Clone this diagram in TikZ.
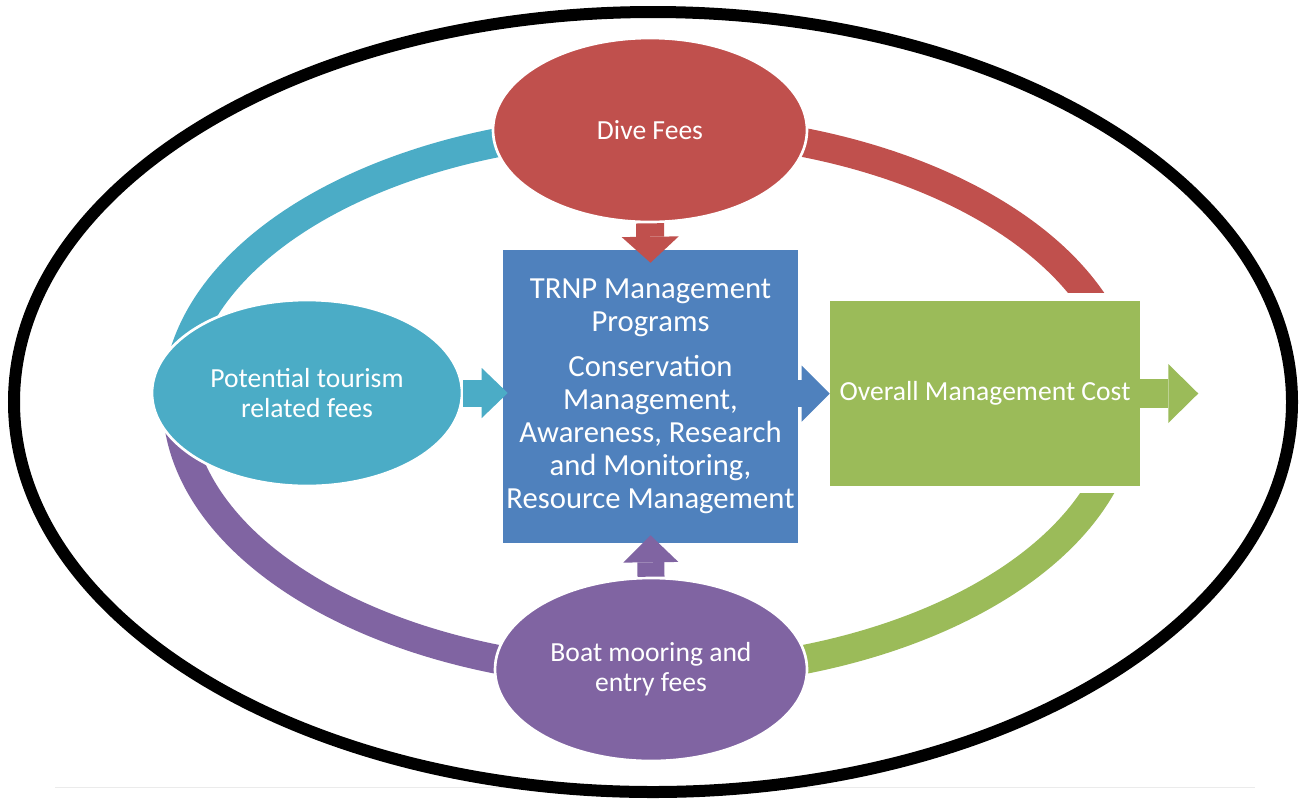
\documentclass[tikz,border=0pt]{standalone}
\usepackage{fontspec}
\setmainfont{Carlito}
\usetikzlibrary{shapes.geometric,arrows.meta,calc}
\definecolor{cRed}{HTML}{C0504D}
\definecolor{cTeal}{HTML}{4BACC6}
\definecolor{cBlue}{HTML}{4F81BD}
\definecolor{cGreen}{HTML}{9BBB59}
\definecolor{cPurple}{HTML}{8064A2}
\begin{document}
\begin{tikzpicture}[x=0.75pt,y=-0.75pt,
  bubble/.style={ellipse, draw=white, line width=2pt, inner sep=0pt, text=white,
    align=center, font=\fontsize{20.7}{22.5}\selectfont},
  block/.style={rectangle, draw=none, inner sep=0pt, text=white, align=center},
  band/.style={line width=21.75pt},
  blockarrow/.style n args={3}{line width=#1,
    -{Triangle[width=#2,length=#3,line width=0pt]}}
]
\useasboundingbox (0,0) rectangle (1301,804);
\fill[white] (0,0) rectangle (1301,804);

% faint rule and outer black ellipse
\draw[black!8, line width=0.75pt] (55,787) -- (1255,787);
\draw[line width=9pt] (653,402) ellipse [x radius=639, y radius=390];

% ring segments
\begin{scope}
  \clip (0,0) rectangle (651,401);
  \draw[band, cTeal] (651,401) ellipse [x radius=474, y radius=273];
\end{scope}
\begin{scope}
  \clip (651,0) rectangle (1301,292);
  \draw[band, cRed] (651,401) ellipse [x radius=474, y radius=273];
\end{scope}
\begin{scope}
  \clip (651,493) rectangle (1301,804);
  \draw[band, cGreen] (651,401) ellipse [x radius=474, y radius=273];
\end{scope}
\begin{scope}
  \clip (0,401) rectangle (651,804);
  \draw[band, cPurple] (651,401) ellipse [x radius=474, y radius=273];
\end{scope}

% nodes
\node[block, fill=cBlue, minimum width=221.25pt, minimum height=219.75pt,
  font=\fontsize{23}{24.75}\selectfont] (prog) at (650.5,396.5)
  {TRNP Management\\Programs\\[9pt]Conservation\\Management,\\Awareness, Research\\and Monitoring,\\Resource Management};
\node[block, fill=cGreen, minimum width=232.5pt, minimum height=138.75pt,
  font=\fontsize{20.7}{22.5}\selectfont] (cost) at (985,393.5)
  {Overall Management Cost};
\node[bubble, fill=cRed, minimum width=235.5pt, minimum height=138pt] (dive) at (650,130)
  {Dive Fees};
\node[bubble, fill=cPurple, minimum width=234pt, minimum height=137.25pt] (boat) at (651,669.5)
  {Boat mooring and\\entry fees};
\node[bubble, fill=cTeal, minimum width=232.5pt, minimum height=139.5pt] (tour) at (307,393)
  {Potential tourism\\related fees};

% block arrows
\draw[blockarrow={21pt}{42.75pt}{19.5pt}, cRed]
  (dive.south) -- ($(prog.north)+(0,13)$);
\draw[blockarrow={20.25pt}{41.25pt}{20.25pt}, cPurple]
  (boat.north) -- ($(prog.south)+(0,-8)$);
\draw[blockarrow={20.25pt}{37.5pt}{19.5pt}, cTeal]
  (tour.east) -- ($(tour.east -| prog.west)+(5,0)$);
\draw[blockarrow={20.25pt}{42pt}{21pt}, cBlue]
  (prog.east |- cost.west) -- (cost.west);
\coordinate (out) at ($(cost.east)+(58,0)$);
\draw[blockarrow={21.75pt}{44.25pt}{22.5pt}, cGreen]
  (cost.east) -- (out);
\end{tikzpicture}
\end{document}
